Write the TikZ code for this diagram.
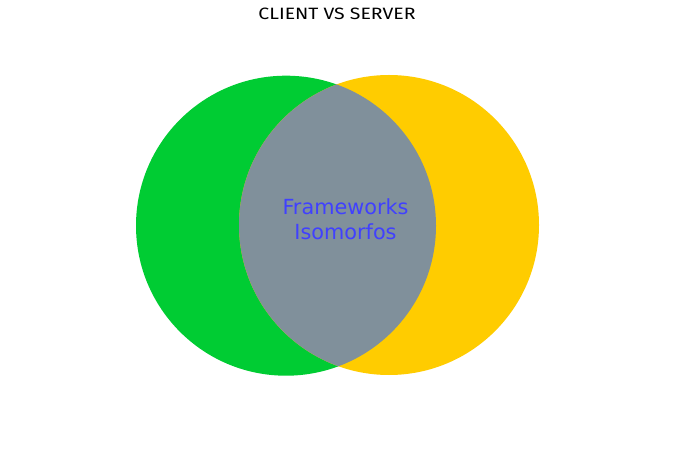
\documentclass[tikz,border=0pt]{standalone}
\usepackage{fontspec}
\setmainfont{DejaVu Sans}
\newfontfamily\titlefont{Fira Sans}
\definecolor{vgreen}{RGB}{0,204,51}
\definecolor{vyellow}{RGB}{255,204,0}
\definecolor{vgray}{RGB}{128,144,155}
\definecolor{vtext}{RGB}{64,64,255}
\begin{document}
\begin{tikzpicture}[x=1bp,y=-1bp]
\tikzset{
  vlabel/.style={text=vtext, align=center, font=\fontsize{20.8bp}{25bp}\selectfont, inner sep=0pt},
  vtitle/.style={inner sep=0pt, anchor=base}
}
\useasboundingbox[fill=white] (0,0) rectangle (674,450);
\fill[vgreen] (286,225.7) circle (150);
\fill[vyellow] (389,225) circle (150);
\begin{scope}
  \clip (286,225.7) circle (150);
  \fill[vgray] (389,225) circle (150);
\end{scope}
\node[vtitle] (title) at (337,19.5) {\resizebox{157bp}{11.5bp}{\titlefont CLIENT VS SERVER}};
\node[vlabel] (inter) at (345.5,219) {Frameworks\\Isomorfos};
\end{tikzpicture}
\end{document}
